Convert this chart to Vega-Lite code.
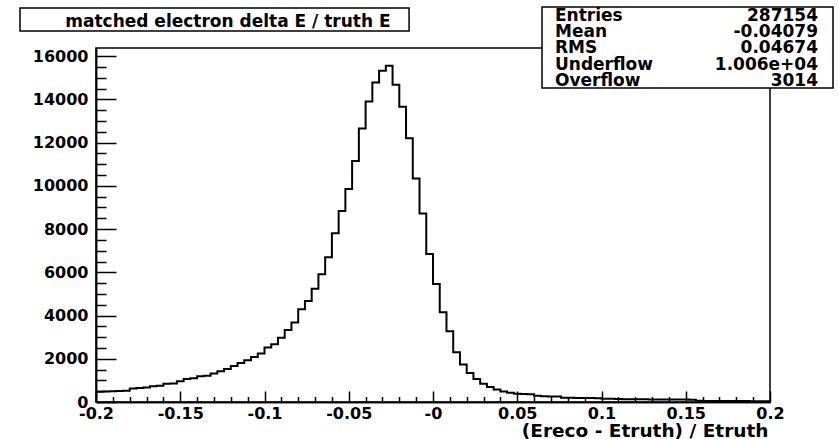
{
  "$schema": "https://vega.github.io/schema/vega-lite/v6.json",
  "width": 674,
  "height": 354,
  "autosize": {"type": "none"},
  "padding": {"left": 96, "top": 48, "right": 68, "bottom": 37},
  "background": "white",
  "config": {
    "view": {"stroke": "black", "strokeWidth": 1.5},
    "font": "DejaVu Sans",
    "axis": {
      "tickColor": "black",
      "tickWidth": 1.5,
      "domainColor": "black",
      "domainWidth": 1.5,
      "grid": false,
      "labelFont": "DejaVu Sans",
      "labelFontWeight": "bold",
      "labelFontSize": 16,
      "labelColor": "black",
      "labelOverlap": false,
      "labelFlush": false,
      "labelBound": false
    }
  },
  "resolve": {"axis": {"x": "independent", "y": "independent"}},
  "layer": [
    {
      "data": {"values": [
        {"lo": -0.2, "hi": -0.196, "n": 480},
        {"lo": -0.196, "hi": -0.192, "n": 490},
        {"lo": -0.192, "hi": -0.188, "n": 500},
        {"lo": -0.188, "hi": -0.184, "n": 510},
        {"lo": -0.184, "hi": -0.18, "n": 520},
        {"lo": -0.18, "hi": -0.176, "n": 630},
        {"lo": -0.176, "hi": -0.172, "n": 650},
        {"lo": -0.172, "hi": -0.168, "n": 670},
        {"lo": -0.168, "hi": -0.164, "n": 730},
        {"lo": -0.164, "hi": -0.16, "n": 750},
        {"lo": -0.16, "hi": -0.156, "n": 840},
        {"lo": -0.156, "hi": -0.152, "n": 860},
        {"lo": -0.152, "hi": -0.148, "n": 960},
        {"lo": -0.148, "hi": -0.144, "n": 1070},
        {"lo": -0.144, "hi": -0.14, "n": 1100},
        {"lo": -0.14, "hi": -0.136, "n": 1190},
        {"lo": -0.136, "hi": -0.132, "n": 1220},
        {"lo": -0.132, "hi": -0.128, "n": 1318},
        {"lo": -0.128, "hi": -0.124, "n": 1424},
        {"lo": -0.124, "hi": -0.12, "n": 1531},
        {"lo": -0.12, "hi": -0.116, "n": 1670},
        {"lo": -0.116, "hi": -0.112, "n": 1810},
        {"lo": -0.112, "hi": -0.108, "n": 1935},
        {"lo": -0.108, "hi": -0.104, "n": 2088},
        {"lo": -0.104, "hi": -0.1, "n": 2245},
        {"lo": -0.1, "hi": -0.096, "n": 2520},
        {"lo": -0.096, "hi": -0.092, "n": 2677},
        {"lo": -0.092, "hi": -0.088, "n": 2970},
        {"lo": -0.088, "hi": -0.084, "n": 3327},
        {"lo": -0.084, "hi": -0.08, "n": 3684},
        {"lo": -0.08, "hi": -0.076, "n": 4287},
        {"lo": -0.076, "hi": -0.072, "n": 4672},
        {"lo": -0.072, "hi": -0.068, "n": 5243},
        {"lo": -0.068, "hi": -0.064, "n": 5911},
        {"lo": -0.064, "hi": -0.06, "n": 6700},
        {"lo": -0.06, "hi": -0.056, "n": 7814},
        {"lo": -0.056, "hi": -0.052, "n": 8834},
        {"lo": -0.052, "hi": -0.048, "n": 9855},
        {"lo": -0.048, "hi": -0.044, "n": 11154},
        {"lo": -0.044, "hi": -0.04, "n": 12653},
        {"lo": -0.04, "hi": -0.036, "n": 13906},
        {"lo": -0.036, "hi": -0.032, "n": 14788},
        {"lo": -0.032, "hi": -0.028, "n": 15331},
        {"lo": -0.028, "hi": -0.024, "n": 15563},
        {"lo": -0.024, "hi": -0.02, "n": 14681},
        {"lo": -0.02, "hi": -0.016, "n": 13660},
        {"lo": -0.016, "hi": -0.012, "n": 12203},
        {"lo": -0.012, "hi": -0.008, "n": 10347},
        {"lo": -0.008, "hi": -0.004, "n": 8720},
        {"lo": -0.004, "hi": 0, "n": 6850},
        {"lo": 0, "hi": 0.004, "n": 5460},
        {"lo": 0.004, "hi": 0.008, "n": 4150},
        {"lo": 0.008, "hi": 0.012, "n": 3270},
        {"lo": 0.012, "hi": 0.016, "n": 2300},
        {"lo": 0.016, "hi": 0.02, "n": 1734},
        {"lo": 0.02, "hi": 0.024, "n": 1346},
        {"lo": 0.024, "hi": 0.028, "n": 1070},
        {"lo": 0.028, "hi": 0.032, "n": 845},
        {"lo": 0.032, "hi": 0.036, "n": 697},
        {"lo": 0.036, "hi": 0.04, "n": 575},
        {"lo": 0.04, "hi": 0.044, "n": 490},
        {"lo": 0.044, "hi": 0.048, "n": 430},
        {"lo": 0.048, "hi": 0.052, "n": 380},
        {"lo": 0.052, "hi": 0.056, "n": 370},
        {"lo": 0.056, "hi": 0.06, "n": 360},
        {"lo": 0.06, "hi": 0.064, "n": 290},
        {"lo": 0.064, "hi": 0.068, "n": 270},
        {"lo": 0.068, "hi": 0.072, "n": 260},
        {"lo": 0.072, "hi": 0.076, "n": 250},
        {"lo": 0.076, "hi": 0.08, "n": 200},
        {"lo": 0.08, "hi": 0.084, "n": 195},
        {"lo": 0.084, "hi": 0.088, "n": 190},
        {"lo": 0.088, "hi": 0.092, "n": 185},
        {"lo": 0.092, "hi": 0.096, "n": 180},
        {"lo": 0.096, "hi": 0.1, "n": 175},
        {"lo": 0.1, "hi": 0.104, "n": 150},
        {"lo": 0.104, "hi": 0.108, "n": 145},
        {"lo": 0.108, "hi": 0.112, "n": 135},
        {"lo": 0.112, "hi": 0.116, "n": 130},
        {"lo": 0.116, "hi": 0.12, "n": 130},
        {"lo": 0.12, "hi": 0.124, "n": 125},
        {"lo": 0.124, "hi": 0.128, "n": 125},
        {"lo": 0.128, "hi": 0.132, "n": 120},
        {"lo": 0.132, "hi": 0.136, "n": 120},
        {"lo": 0.136, "hi": 0.14, "n": 115},
        {"lo": 0.14, "hi": 0.144, "n": 115},
        {"lo": 0.144, "hi": 0.148, "n": 110},
        {"lo": 0.148, "hi": 0.152, "n": 110},
        {"lo": 0.152, "hi": 0.156, "n": 105},
        {"lo": 0.156, "hi": 0.16, "n": 55},
        {"lo": 0.16, "hi": 0.164, "n": 52},
        {"lo": 0.164, "hi": 0.168, "n": 50},
        {"lo": 0.168, "hi": 0.172, "n": 48},
        {"lo": 0.172, "hi": 0.176, "n": 46},
        {"lo": 0.176, "hi": 0.18, "n": 45},
        {"lo": 0.18, "hi": 0.184, "n": 44},
        {"lo": 0.184, "hi": 0.188, "n": 42},
        {"lo": 0.188, "hi": 0.192, "n": 40},
        {"lo": 0.192, "hi": 0.196, "n": 40},
        {"lo": 0.196, "hi": 0.2, "n": 38}
      ]},
      "transform": [{"fold": ["lo", "hi"], "as": ["edge", "x"]}],
      "mark": {"type": "line", "color": "black", "strokeWidth": 2, "strokeJoin": "miter", "clip": true},
      "encoding": {
        "x": {
          "field": "x",
          "type": "quantitative",
          "scale": {"domain": [-0.2, 0.2], "nice": false, "zero": false},
          "axis": {
            "orient": "bottom",
            "values": [-0.19, -0.18, -0.17, -0.16, -0.14, -0.13, -0.12, -0.11, -0.09, -0.08, -0.07, -0.06, -0.04, -0.03, -0.02, -0.01, 0.01, 0.02, 0.03, 0.04, 0.06, 0.07, 0.08, 0.09, 0.11, 0.12, 0.13, 0.14, 0.16, 0.17, 0.18, 0.19],
            "tickSize": -5.5,
            "labels": false,
            "title": null
          }
        },
        "y": {
          "field": "n",
          "type": "quantitative",
          "scale": {"domain": [0, 16380], "nice": false, "zero": true},
          "axis": {
            "orient": "left",
            "values": [500, 1000, 1500, 2500, 3000, 3500, 4500, 5000, 5500, 6500, 7000, 7500, 8500, 9000, 9500, 10500, 11000, 11500, 12500, 13000, 13500, 14500, 15000, 15500],
            "tickSize": -10,
            "labels": false,
            "title": null
          }
        },
        "order": [
          {"field": "x", "type": "quantitative"},
          {"field": "edge", "type": "nominal"}
        ]
      }
    },
    {
      "data": {"values": [{}]},
      "mark": {"type": "rect", "fill": "white", "stroke": "black", "strokeWidth": 1.5},
      "encoding": {
        "x": {
          "datum": -0.2451,
          "type": "quantitative",
          "axis": {
            "orient": "bottom",
            "values": [-0.2, -0.15, -0.1, -0.05, 0, 0.05, 0.1, 0.15, 0.2],
            "labelExpr": "datum.value == 0 ? '-0' : '' + datum.value",
            "tickSize": -11,
            "labelPadding": 14,
            "title": "(Ereco - Etruth) / Etruth",
            "titleFont": "DejaVu Sans",
            "titleFontWeight": "bold",
            "titleFontSize": 18.5,
            "titleColor": "black",
            "titleAlign": "right",
            "titleBaseline": "alphabetic",
            "titleX": 672,
            "titleY": 34
          }
        },
        "x2": {"datum": -0.0142},
        "y": {
          "datum": 18230,
          "type": "quantitative",
          "axis": {
            "orient": "left",
            "values": [0, 2000, 4000, 6000, 8000, 10000, 12000, 14000, 16000],
            "labelExpr": "'' + datum.value",
            "tickSize": -20,
            "labelPadding": 28,
            "title": null
          }
        },
        "y2": {"datum": 17166}
      }
    },
    {
      "data": {"values": [{}]},
      "mark": {"type": "text", "text": "matched electron delta E / truth E", "font": "DejaVu Sans", "fontWeight": "bold", "fontSize": 17, "color": "black", "align": "center", "baseline": "alphabetic"},
      "encoding": {
        "x": {"datum": -0.1217, "type": "quantitative", "axis": null},
        "y": {"datum": 17365, "type": "quantitative", "axis": null}
      }
    },
    {
      "data": {"values": [{}]},
      "mark": {"type": "rect", "fill": "white", "stroke": "black", "strokeWidth": 1.5},
      "encoding": {
        "x": {"datum": 0.0647, "type": "quantitative", "axis": null},
        "x2": {"datum": 0.2374},
        "y": {"datum": 18277, "type": "quantitative", "axis": null},
        "y2": {"datum": 14529}
      }
    },
    {
      "data": {"values": [{}]},
      "mark": {"type": "text", "text": ["Entries", "Mean", "RMS", "Underflow", "Overflow"], "lineHeight": 16.3, "font": "DejaVu Sans", "fontWeight": "bold", "fontSize": 17, "color": "black", "align": "left", "baseline": "alphabetic"},
      "encoding": {
        "x": {"datum": 0.0724, "type": "quantitative", "axis": null},
        "y": {"datum": 17643, "type": "quantitative", "axis": null}
      }
    },
    {
      "data": {"values": [{}]},
      "mark": {"type": "text", "text": ["287154", "-0.04079", "0.04674", "1.006e+04", "3014"], "lineHeight": 16.3, "font": "DejaVu Sans", "fontWeight": "bold", "fontSize": 17, "color": "black", "align": "right", "baseline": "alphabetic"},
      "encoding": {
        "x": {"datum": 0.2285, "type": "quantitative", "axis": null},
        "y": {"datum": 17643, "type": "quantitative", "axis": null}
      }
    }
  ]
}
